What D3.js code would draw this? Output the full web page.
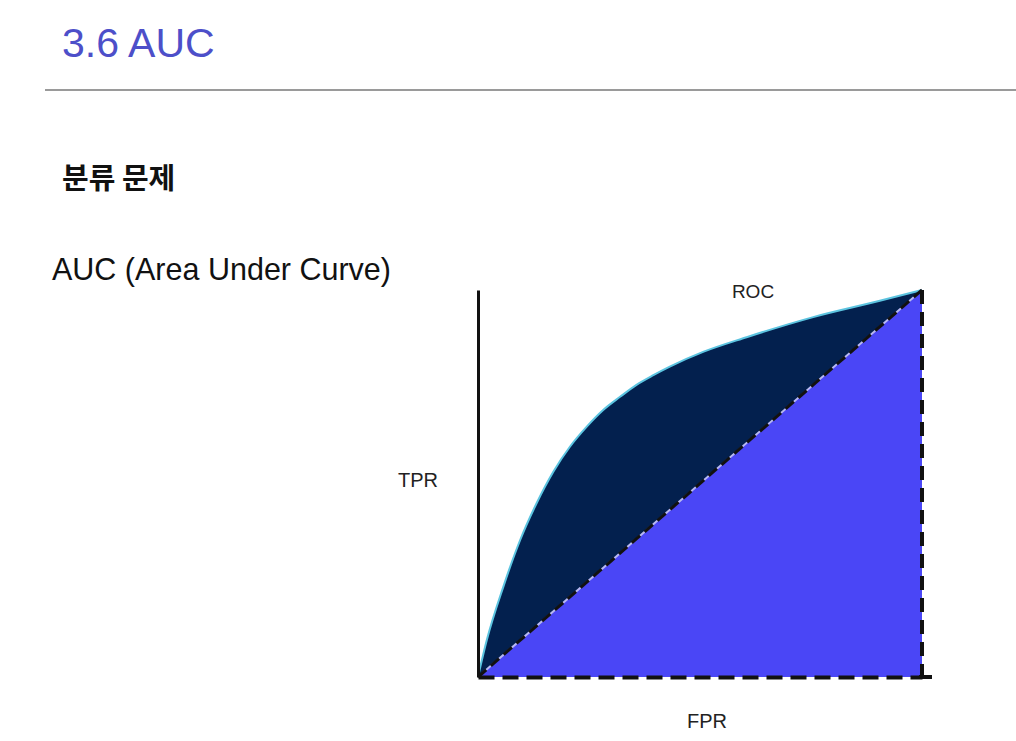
<!DOCTYPE html>
<html>
<head>
<meta charset="utf-8">
<script src="https://cdn.jsdelivr.net/npm/d3@7"></script>
<style>
  body { margin: 0; background: #fff; }
  svg { display: block; }
  text { font-family: "Liberation Sans", Arial, sans-serif; }
</style>
</head>
<body>
<svg id="chart"></svg>
<script>

// ROC curve (false positive rate -> true positive rate)
const fpr = [0, 0.02, 0.057, 0.095, 0.132, 0.17, 0.207, 0.245, 0.282, 0.32, 0.357, 0.395, 0.432, 0.507, 0.605, 0.755, 0.905, 1];
const tpr = [0, 0.096, 0.233, 0.354, 0.449, 0.531, 0.595, 0.647, 0.69, 0.724, 0.755, 0.78, 0.802, 0.84, 0.878, 0.93, 0.972, 1];
// random classifier diagonal
const diagonal = [0, 1];

const pageTitle = "3.6 AUC";
const subTitle = "분류 문제";
const caption = "AUC (Area Under Curve)";
const xLabel = "FPR";
const yLabel = "TPR";
const curveLabel = "ROC";

const W = 1016, H = 741;
const svg = d3.select("#chart").attr("width", W).attr("height", H);

// page header
svg.append("text")
    .attr("x", 62).attr("y", 57)
    .style("font-size", "41px")
    .attr("fill", "#4d4fc9")
    .text(pageTitle);

svg.append("line")
    .attr("x1", 45).attr("x2", W)
    .attr("y1", 90).attr("y2", 90)
    .attr("stroke", "#9a9a9a").attr("stroke-width", 2);

svg.append("text")
    .attr("x", 62).attr("y", 189)
    .style("font-family", '"Noto Sans CJK KR", sans-serif')
    .style("font-size", "29px")
    .style("font-weight", "bold")
    .attr("fill", "#111")
    .text(subTitle);

svg.append("text")
    .attr("x", 52).attr("y", 280)
    .style("font-size", "30.5px")
    .attr("fill", "#111")
    .text(caption);

// chart
const x = d3.scaleLinear().domain([0, 1]).range([478, 922]);
const y = d3.scaleLinear().domain([0, 1]).range([677, 290]);

const roc = fpr.map((f, i) => ({ f: f, t: tpr[i] }));

// area under the diagonal
const under = d3.area()
    .x(d => x(d))
    .y0(y(0))
    .y1(d => y(d));

svg.append("path")
    .datum(diagonal)
    .attr("d", under)
    .attr("fill", "#4a46f6");

// area between the diagonal and the ROC curve
const between = d3.area()
    .curve(d3.curveMonotoneX)
    .x(d => x(d.f))
    .y0(d => y(d.f))
    .y1(d => y(d.t));

svg.append("path")
    .datum(roc)
    .attr("d", between)
    .attr("fill", "#03204e");

// ROC curve
const line = d3.line()
    .curve(d3.curveMonotoneX)
    .x(d => x(d.f))
    .y(d => y(d.t));

svg.append("path")
    .datum(roc)
    .attr("d", line)
    .attr("fill", "none")
    .attr("stroke", "#5cc4e0")
    .attr("stroke-width", 2);

// dashed diagonal (light line under black dashes)
const diagLine = d3.line().x(d => x(d)).y(d => y(d));
svg.append("path")
    .datum(diagonal)
    .attr("d", diagLine)
    .attr("stroke", "#b8b8f0").attr("stroke-width", 2).attr("fill", "none");
svg.append("path")
    .datum(diagonal)
    .attr("d", diagLine)
    .attr("stroke", "#111").attr("stroke-width", 3)
    .attr("stroke-dasharray", "11,6").attr("fill", "none");

// dashed right edge at FPR = 1
svg.append("line")
    .attr("x1", x(1)).attr("x2", x(1))
    .attr("y1", y(1)).attr("y2", y(0))
    .attr("stroke", "#111").attr("stroke-width", 4)
    .attr("stroke-dasharray", "14,8");

// x axis: dashed baseline with a short solid tail
const xAxis = svg.append("g")
    .attr("transform", `translate(0,${y(0)})`)
    .call(d3.axisBottom(x).tickValues([]).tickSizeOuter(0));
xAxis.select(".domain")
    .attr("stroke", "#111").attr("stroke-width", 4)
    .attr("stroke-dasharray", "16,8");
svg.append("line")
    .attr("x1", x(1) - 3).attr("x2", x(1) + 10)
    .attr("y1", y(0)).attr("y2", y(0))
    .attr("stroke", "#111").attr("stroke-width", 4);

// y axis: solid line
const yAxis = svg.append("g")
    .attr("transform", `translate(${x(0)},0)`)
    .call(d3.axisLeft(y).tickValues([]).tickSizeOuter(0));
yAxis.select(".domain")
    .attr("stroke", "#111").attr("stroke-width", 3);

// labels
svg.append("text")
    .attr("x", 753).attr("y", 298)
    .attr("text-anchor", "middle")
    .style("font-size", "19px")
    .attr("fill", "#222")
    .text(curveLabel);

svg.append("text")
    .attr("x", 398).attr("y", 487)
    .style("font-size", "20px")
    .attr("fill", "#222")
    .text(yLabel);

svg.append("text")
    .attr("x", 707).attr("y", 728)
    .attr("text-anchor", "middle")
    .style("font-size", "20px")
    .attr("fill", "#222")
    .text(xLabel);

</script>
</body>
</html>
